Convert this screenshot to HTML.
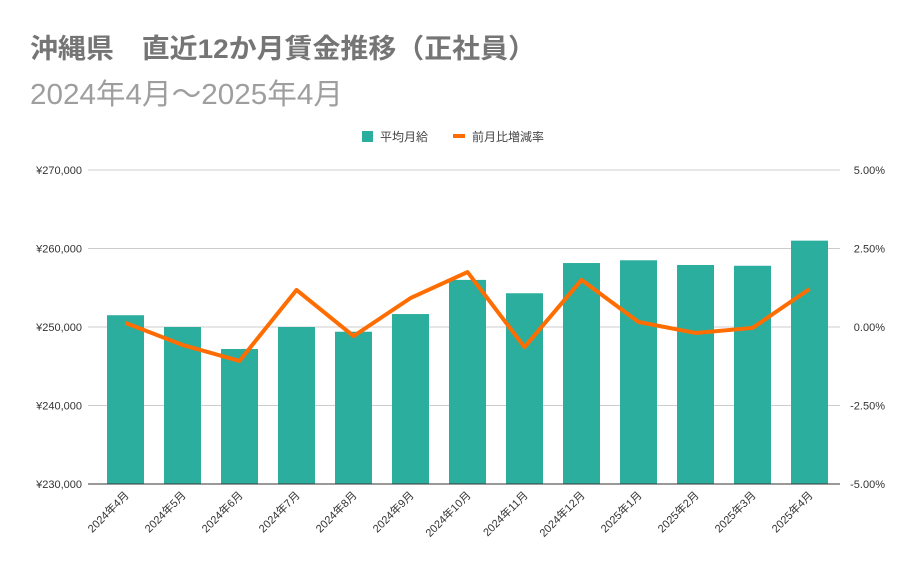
<!DOCTYPE html>
<html><head><meta charset="utf-8"><style>
body{margin:0;background:#fff;}
svg{display:block;font-family:"Liberation Sans","Noto Sans CJK JP",sans-serif;}
</style></head><body>
<svg id="c" width="921" height="570">
<text x="30" y="58" font-size="27" font-weight="bold" fill="#757575" textLength="506" lengthAdjust="spacingAndGlyphs">沖縄県　直近12か月賃金推移（正社員）</text>
<text x="30" y="104" font-size="29" fill="#9e9e9e" textLength="313" lengthAdjust="spacingAndGlyphs">2024年4月～2025年4月</text>
<g>
<rect x="362" y="131" width="11" height="11" fill="#2bae9e"/>
<text x="380" y="141" font-size="12" fill="#444">平均月給</text>
<rect x="453" y="134" width="12" height="4" fill="#ff6d01"/>
<text x="472" y="141" font-size="12" fill="#444">前月比増減率</text>
</g>
<g id="grid"></g><g id="bars"></g><g id="line"></g><g id="axes"></g>
</svg>
<script>
const categories=["2024年4月","2024年5月","2024年6月","2024年7月","2024年8月","2024年9月","2024年10月","2024年11月","2024年12月","2025年1月","2025年2月","2025年3月","2025年4月"];
const salary=[251500,250000,247200,250000,249400,251650,256000,254300,258150,258500,257900,257800,261000];
const rate=[0.13,-0.57,-1.08,1.18,-0.29,0.92,1.75,-0.64,1.5,0.16,-0.19,-0.03,1.21];
const leftTicks=[230000,240000,250000,260000,270000];
const leftLabels=["¥230,000","¥240,000","¥250,000","¥260,000","¥270,000"];
const rightTicks=[-5,-2.5,0,2.5,5];
const rightLabels=["-5.00%","-2.50%","0.00%","2.50%","5.00%"];
const NS="http://www.w3.org/2000/svg";
const PT=170,PB=484,PL=88,PR=840;
const yL=v=>PB-(v-230000)/40000*(PB-PT);
const yR=v=>PB-(v+5)/10*(PB-PT);
const xC=i=>PL+37.5+i*57;
function mk(t,a,p){const e=document.createElementNS(NS,t);for(const k in a)e.setAttribute(k,a[k]);document.getElementById(p).appendChild(e);return e;}
leftTicks.forEach((v,i)=>{
 const g=mk("line",{x1:PL,x2:PR,y1:yL(v),y2:yL(v),stroke:i==0?"#333":"#ccc","stroke-width":1},"grid");
 
 
 const t=mk("text",{x:82,y:yL(v)+4,"font-size":11,fill:"#333","text-anchor":"end"},"axes");t.textContent=leftLabels[i];
 
 
});
rightTicks.forEach((v,i)=>{
 const t=mk("text",{x:885,y:yR(v)+4,"font-size":11,fill:"#333","text-anchor":"end"},"axes");t.textContent=rightLabels[i];
 
 
});
salary.forEach((v,i)=>{
 const b=mk("rect",{x:xC(i)-18.5,y:yL(v),width:37,height:PB-yL(v),fill:"#2bae9e"},"bars");
 
 
 const x=xC(i)+4,y=PB+12;
 const t=mk("text",{x:x,y:y,"font-size":11,fill:"#333","text-anchor":"end",transform:`rotate(-45 ${x} ${y})`},"axes");t.textContent=categories[i];
 
 
});
mk("line",{x1:PL,x2:PR,y1:PB,y2:PB,stroke:"#333","stroke-width":1},"axes");
const pl=mk("polyline",{points:rate.map((v,i)=>xC(i)+","+yR(v)).join(" "),fill:"none",stroke:"#ff6d01","stroke-width":4,"stroke-linejoin":"round"},"line");


</script>
</body></html>
